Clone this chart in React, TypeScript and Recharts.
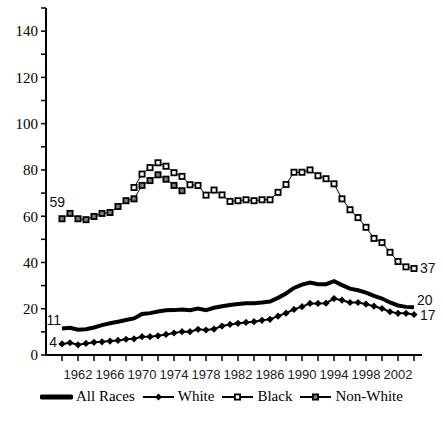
import React from 'react';
import { LineChart, Line, XAxis, YAxis, Legend } from 'recharts';

const years = [
  1960, 1961, 1962, 1963, 1964, 1965, 1966, 1967, 1968, 1969,
  1970, 1971, 1972, 1973, 1974, 1975, 1976, 1977, 1978, 1979,
  1980, 1981, 1982, 1983, 1984, 1985, 1986, 1987, 1988, 1989,
  1990, 1991, 1992, 1993, 1994, 1995, 1996, 1997, 1998, 1999,
  2000, 2001, 2002, 2003, 2004,
];

const allRaces = [
  11.5, 11.8, 10.9, 11.1, 11.9, 12.9, 13.7, 14.4, 15.1, 15.8,
  17.7, 18.1, 18.8, 19.3, 19.4, 19.7, 19.4, 20.1, 19.4, 20.4,
  21.1, 21.6, 22.0, 22.4, 22.4, 22.7, 23.1, 24.7, 26.6, 29.0,
  30.4, 31.3, 30.6, 30.6, 31.9, 30.2, 28.7, 28.0, 27.0, 25.6,
  24.4, 22.7, 21.4, 20.8, 20.6,
];

const white = [
  4.8, 5.3, 4.4, 5.0, 5.5, 5.7, 6.0, 6.3, 6.8, 7.0,
  7.9, 7.9, 8.3, 8.9, 9.5, 10.1, 10.1, 11.1, 10.8, 11.2,
  12.5, 13.2, 13.7, 14.1, 14.4, 15.0, 15.4, 16.8, 18.1, 19.7,
  20.9, 22.3, 22.3, 22.4, 24.4, 23.7, 22.7, 22.7, 22.0, 21.1,
  20.1, 18.7, 18.0, 18.0, 17.5,
];

const black = [
  null, null, null, null, null, null, null, null, null, 72.4,
  78.2, 81.0, 83.1, 81.6, 78.8, 77.2, 73.6, 73.3, 69.1, 71.3,
  69.2, 66.4, 66.7, 67.1, 66.7, 67.1, 67.1, 70.3, 73.7, 79.0,
  79.0, 80.0, 77.5, 76.2, 74.0, 67.5, 62.8, 59.4, 55.2, 50.4,
  48.6, 44.4, 40.4, 38.1, 37.4,
];

const nonWhite = [
  58.9, 61.2, 58.9, 58.5, 59.9, 61.2, 61.6, 64.2, 66.7, 67.5,
  73.3, 75.4, 77.9, 76.0, 73.3, 71.0, null, null, null, null,
  null, null, null, null, null, null, null, null, null, null,
  null, null, null, null, null, null, null, null, null, null,
  null, null, null, null, null,
];

const xTicks = [
  1960, 1962, 1964, 1966, 1968, 1970, 1972, 1974, 1976, 1978, 1980, 1982,
  1984, 1986, 1988, 1990, 1992, 1994, 1996, 1998, 2000, 2002, 2004,
];
const xLabels = [1962, 1966, 1970, 1974, 1978, 1982, 1986, 1990, 1994, 1998, 2002];
const yTicks = [0, 10, 20, 30, 40, 50, 60, 70, 80, 90, 100, 110, 120, 130, 140, 150];
const yLabels = [0, 20, 40, 60, 80, 100, 120, 140];

const data = years.map((year, i) => ({
  year,
  allRaces: allRaces[i],
  white: white[i],
  black: black[i],
  nonWhite: nonWhite[i],
}));

const SERIF = "'Liberation Serif', 'DejaVu Serif', serif";
const SANS = "'Liberation Sans', Arial, sans-serif";

const isPt = (cx: any, cy: any) =>
  typeof cx === 'number' && typeof cy === 'number' && !isNaN(cx) && !isNaN(cy);

const squareDot = (fill: string) => (props: any) => {
  const { cx, cy, index } = props;
  if (!isPt(cx, cy)) return <g key={index} />;
  return (
    <rect key={index} x={cx - 2.6} y={cy - 2.6} width={5.2} height={5.2}
      fill={fill} stroke="#000" strokeWidth={1.8} />
  );
};

const diamondDot = (props: any) => {
  const { cx, cy, index } = props;
  if (!isPt(cx, cy)) return <g key={index} />;
  const r = 3.6;
  return (
    <polygon key={index} points={`${cx},${cy - r} ${cx + r},${cy} ${cx},${cy + r} ${cx - r},${cy}`}
      fill="#000" />
  );
};

// text next to the first / last point of a series
const pointLabel = (idx: number, text: string, dx: number, dy: number, anchor: 'start' | 'end') =>
  (props: any) => {
    if (props.index !== idx || !isPt(props.x, props.y)) return null;
    return (
      <text key={`l${idx}`} x={props.x + dx} y={props.y + dy} textAnchor={anchor}
        style={{ fontFamily: SANS, fontSize: 14 }} fill="#111">
        {text}
      </text>
    );
  };

const XTick = (props: any) => {
  const { x, y, payload } = props;
  if (!xLabels.includes(payload.value)) return <g />;
  return (
    <text x={x} y={y} dy="0.71em" textAnchor="middle" style={{ fontFamily: SANS, fontSize: 13 }} fill="#222">
      {payload.value}
    </text>
  );
};

const YTick = (props: any) => {
  const { x, y, payload } = props;
  if (!yLabels.includes(payload.value)) return <g />;
  return (
    <text x={x} y={y} dy="0.355em" textAnchor="end"
      style={{ fontFamily: SERIF, fontSize: 15, fontWeight: 400 }} fill="#000">
      {payload.value}
    </text>
  );
};

const legendItems = [
  { name: 'All Races', kind: 'thick' },
  { name: 'White', kind: 'diamond' },
  { name: 'Black', kind: 'open' },
  { name: 'Non-White', kind: 'gray' },
];

const LegendIcon = ({ kind }: { kind: string }) => (
  <svg width={33} height={14} style={{ display: 'block' }}>
    {kind === 'thick' ? (
      <line x1={2} y1={7} x2={31} y2={7} stroke="#000" strokeWidth={5} strokeLinecap="round" />
    ) : (
      <line x1={1} y1={7} x2={32} y2={7} stroke="#000" strokeWidth={2} />
    )}
    {kind === 'diamond' && <polygon points="16.5,3.5 20,7 16.5,10.5 13,7" fill="#000" />}
    {kind === 'open' && <rect x={13.9} y={4.4} width={5.2} height={5.2} fill="#fff" stroke="#000" strokeWidth={1.8} />}
    {kind === 'gray' && <rect x={13.9} y={4.4} width={5.2} height={5.2} fill="#808080" stroke="#000" strokeWidth={1.8} />}
  </svg>
);

const renderLegend = () => (
  <div style={{ display: 'flex', alignItems: 'center', fontFamily: SERIF, fontSize: 15, fontWeight: 400, color: '#000' }}>
    {legendItems.map((item) => (
      <div key={item.name} style={{ display: 'flex', alignItems: 'center', marginRight: 7 }}>
        <LegendIcon kind={item.kind} />
        <span style={{ marginLeft: 3 }}>{item.name}</span>
      </div>
    ))}
  </div>
);

export default function App() {
  return (
    <div style={{ position: 'absolute', left: 0, top: 0, background: '#fff' }}>
      <LineChart width={443} height={423} data={data}
        margin={{ top: 8, right: 21, left: 0, bottom: 38 }}>
        <XAxis dataKey="year" type="number" domain={[1958, 2005]} ticks={xTicks}
          interval={0} height={30} tickSize={6} tickMargin={9}
          axisLine={{ stroke: '#000', strokeWidth: 2 }}
          tickLine={{ stroke: '#000', strokeWidth: 1.5 }} tick={<XTick />} />
        <YAxis type="number" domain={[0, 150]} ticks={yTicks} interval={0} width={46}
          tickSize={5} tickMargin={3}
          axisLine={{ stroke: '#000', strokeWidth: 2 }}
          tickLine={{ stroke: '#000', strokeWidth: 1.5 }} tick={<YTick />} />
        <Legend verticalAlign="middle" align="center" layout="horizontal" content={renderLegend}
          wrapperStyle={{ top: 388, left: 40, width: 400 }} />
        <Line dataKey="allRaces" name="All Races" stroke="#000" strokeWidth={4} dot={false}
          isAnimationActive={false}
          label={(p: any) => p.index === 0
            ? pointLabel(0, '11', -1, -3, 'end')(p)
            : pointLabel(44, '20', 3, -2, 'start')(p)} />
        <Line dataKey="white" name="White" stroke="#000" strokeWidth={2} dot={diamondDot}
          isAnimationActive={false}
          label={(p: any) => p.index === 0
            ? pointLabel(0, '4', -5, 3, 'end')(p)
            : pointLabel(44, '17', 6, 5, 'start')(p)} />
        <Line dataKey="nonWhite" name="Non-White" stroke="#000" strokeWidth={1} dot={squareDot('#808080')}
          isAnimationActive={false}
          label={pointLabel(0, '59', 3, -12, 'end')} />
        <Line dataKey="black" name="Black" stroke="#000" strokeWidth={1} dot={squareDot('#fff')}
          isAnimationActive={false}
          label={pointLabel(44, '37', 6, 5, 'start')} />
      </LineChart>
    </div>
  );
}
